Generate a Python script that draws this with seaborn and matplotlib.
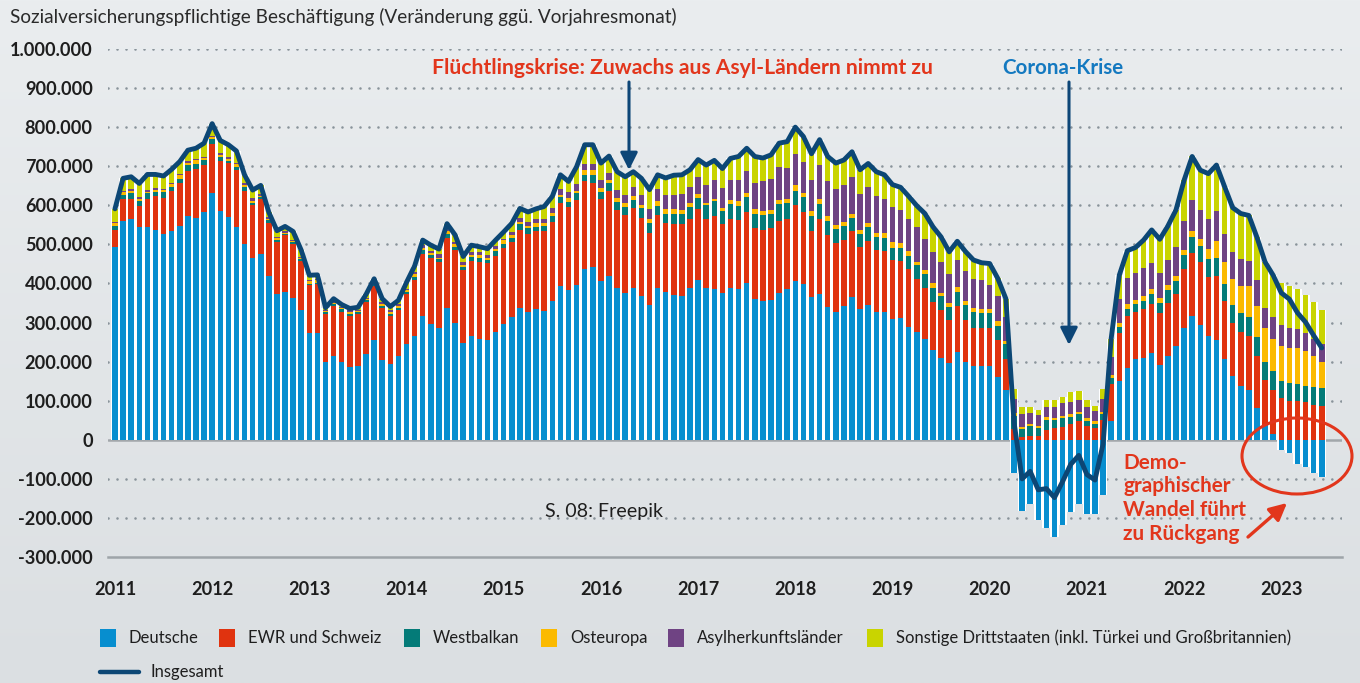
import numpy as np
import matplotlib
matplotlib.use("Agg")
import matplotlib.pyplot as plt
import seaborn as sns
from matplotlib import font_manager as fm
from matplotlib.patches import Rectangle, Ellipse
from matplotlib.lines import Line2D

# ---------------- data (values in thousands, monthly Jan 2011 - Jun 2023) ----------------
years = ["2011", "2012", "2013", "2014", "2015", "2016", "2017",
         "2018", "2019", "2020", "2021", "2022", "2023"]

deutsche = [
    494, 560, 565, 544, 544, 538, 527, 533, 548, 573, 568, 584,
    632, 585, 570, 544, 502, 466, 476, 420, 373, 379, 363, 332,
    272, 272, 199, 215, 199, 185, 188, 220, 256, 205, 194, 215,
    245, 266, 317, 297, 286, 337, 298, 247, 266, 257, 256, 276,
    297, 315, 338, 327, 334, 329, 355, 394, 383, 396, 437, 441,
    406, 420, 389, 375, 389, 368, 344, 389, 379, 370, 368, 389,
    409, 389, 385, 375, 389, 385, 401, 360, 355, 358, 375, 385,
    406, 399, 365, 374, 339, 327, 343, 365, 334, 344, 327, 327,
    309, 312, 288, 276, 257, 230, 209, 196, 225, 199, 189, 189,
    189, 160, 127, -85, -183, -165, -205, -226, -250, -217, -185, -164,
    -190, -190, -141, 47, 150, 184, 206, 210, 221, 191, 214, 239,
    286, 317, 293, 266, 256, 206, 163, 138, 127, 81, 37, 15,
    -25, -34, -62, -70, -85, -96]

ewr_schweiz = [
    43, 56, 51, 55, 72, 87, 92, 103, 109, 115, 125, 120,
    126, 128, 137, 147, 135, 135, 140, 135, 133, 144, 138, 125,
    123, 126, 122, 128, 128, 131, 133, 132, 137, 132, 122, 117,
    129, 144, 158, 168, 169, 180, 187, 187, 191, 198, 197, 195,
    194, 192, 199, 199, 200, 205, 203, 211, 212, 218, 226, 216,
    210, 216, 199, 199, 205, 200, 184, 186, 175, 182, 184, 176,
    181, 176, 188, 178, 176, 178, 183, 183, 183, 184, 185, 180,
    195, 185, 169, 192, 185, 176, 169, 169, 159, 164, 159, 156,
    152, 145, 149, 135, 132, 123, 123, 111, 118, 108, 97, 97,
    97, 96, 79, 27, 6, 10, 9, 26, 29, 32, 40, 48,
    35, 30, 50, 95, 124, 133, 121, 124, 126, 134, 135, 135,
    150, 160, 162, 150, 162, 149, 136, 138, 138, 133, 117, 113,
    107, 98, 98, 97, 88, 86]

westbalkan = [
    10, 11, 16, 13, 15, 10, 15, 11, 10, 15, 13, 11,
    11, 10, 7, 6, 9, 5, 4, 8, 6, 4, 5, 5,
    4, 4, 5, 4, 7, 7, 5, 5, 5, 6, 7, 6,
    5, 7, 10, 7, 8, 10, 9, 7, 10, 10, 6, 13,
    11, 10, 15, 16, 11, 13, 15, 15, 13, 17, 15, 21,
    19, 20, 21, 22, 20, 24, 26, 23, 24, 26, 26, 30,
    28, 36, 38, 32, 38, 36, 36, 35, 38, 35, 44, 40,
    36, 36, 38, 38, 36, 36, 35, 34, 34, 37, 33, 34,
    31, 34, 34, 36, 35, 36, 35, 33, 36, 38, 41, 38,
    39, 36, 38, 33, 21, 24, 21, 24, 21, 23, 18, 19,
    14, 10, 15, 16, 15, 17, 20, 21, 26, 24, 34, 32,
    36, 41, 40, 46, 46, 44, 46, 48, 50, 50, 45, 48,
    43, 48, 45, 40, 47, 46]

osteuropa = [
    7, 6, 4, 4, 4, 4, 6, 7, 10, 4, 9, 5,
    5, 7, 5, 9, 6, 6, 5, 3, 4, 3, 3, 2,
    7, 6, 3, 3, 3, 3, 3, 3, 3, 5, 4, 4,
    3, 7, 6, 6, 3, 6, 6, 6, 5, 7, 6, 5,
    9, 7, 6, 4, 9, 9, 7, 6, 10, 6, 13, 13,
    10, 10, 10, 9, 10, 10, 11, 13, 12, 12, 10, 10,
    11, 6, 6, 9, 10, 12, 11, 12, 10, 12, 10, 11,
    15, 11, 13, 13, 13, 10, 11, 11, 11, 10, 10, 11,
    13, 13, 13, 9, 10, 11, 9, 10, 12, 10, 10, 10,
    10, 12, 10, 9, 5, 7, 6, 7, 6, 5, 8, 5,
    7, 7, 5, 7, 10, 13, 10, 13, 12, 15, 13, 13,
    13, 17, 18, 25, 44, 57, 66, 70, 78, 79, 87, 81,
    91, 90, 92, 90, 79, 67]

asylherkunft = [
    3, 4, 5, 5, 5, 5, 2, 3, 3, 6, 4, 4,
    3, 4, 4, 3, 4, 6, 5, 4, 4, 3, 3, 4,
    4, 4, 4, 3, 4, 5, 4, 3, 3, 4, 4, 5,
    4, 6, 7, 5, 9, 6, 7, 7, 9, 9, 9, 7,
    4, 8, 10, 11, 12, 10, 13, 15, 17, 18, 15, 15,
    20, 17, 20, 21, 24, 24, 26, 30, 37, 37, 41, 43,
    44, 45, 47, 50, 51, 54, 57, 68, 77, 78, 83, 80,
    80, 81, 79, 87, 88, 92, 94, 94, 91, 92, 95, 88,
    90, 85, 82, 88, 81, 81, 79, 74, 68, 78, 74, 74,
    60, 64, 60, 35, 34, 27, 28, 27, 29, 33, 31, 29,
    28, 27, 34, 47, 62, 68, 70, 71, 67, 64, 64, 75,
    74, 79, 74, 77, 77, 71, 69, 68, 64, 67, 51, 57,
    53, 49, 49, 47, 43, 45]

sonstige = [
    34, 32, 32, 35, 39, 35, 33, 35, 32, 28, 27, 35,
    32, 32, 32, 30, 22, 21, 21, 12, 15, 13, 21, 17,
    11, 10, 5, 8, 5, 5, 6, 9, 8, 9, 10, 10,
    17, 15, 13, 15, 13, 14, 17, 15, 17, 13, 15, 15,
    17, 22, 24, 26, 25, 31, 30, 37, 26, 44, 49, 49,
    43, 43, 47, 47, 38, 43, 49, 37, 43, 50, 49, 43,
    44, 51, 51, 50, 56, 60, 58, 67, 58, 62, 62, 67,
    68, 64, 68, 64, 64, 67, 64, 64, 62, 60, 62, 62,
    58, 57, 57, 55, 64, 64, 64, 57, 49, 49, 49, 45,
    56, 45, 47, 27, 17, 16, 13, 17, 17, 17, 25, 23,
    17, 13, 26, 47, 60, 69, 65, 72, 85, 85, 87, 94,
    105, 111, 103, 117, 118, 121, 114, 117, 117, 108, 118, 107,
    107, 109, 103, 97, 95, 87]

insgesamt = [
    591, 669, 673, 656, 679, 679, 675, 692, 712, 741, 746, 759,
    809, 766, 755, 739, 678, 639, 651, 582, 535, 546, 533, 485,
    421, 422, 338, 361, 346, 336, 339, 372, 412, 361, 341, 357,
    403, 445, 511, 498, 488, 553, 524, 469, 498, 494, 489, 511,
    532, 554, 592, 583, 591, 597, 623, 678, 661, 699, 755, 755,
    708, 726, 686, 673, 686, 669, 640, 678, 670, 677, 678, 691,
    717, 703, 715, 694, 720, 725, 746, 725, 721, 729, 759, 763,
    800, 776, 732, 768, 725, 708, 716, 737, 691, 707, 686, 678,
    653, 646, 623, 599, 579, 545, 519, 481, 508, 482, 460, 453,
    451, 413, 361, 46, -100, -81, -128, -125, -148, -107, -63, -40,
    -89, -103, -11, 259, 421, 484, 492, 511, 537, 513, 547, 588,
    664, 725, 690, 681, 703, 648, 594, 579, 574, 518, 455, 421,
    376, 360, 325, 301, 267, 235]

series_names = ["Deutsche", "EWR und Schweiz", "Westbalkan", "Osteuropa",
                "Asylherkunftsländer",
                "Sonstige Drittstaaten (inkl. Türkei und Großbritannien)"]
series_values = [deutsche, ewr_schweiz, westbalkan, osteuropa, asylherkunft, sonstige]
series_colors = ["#078ecf", "#e0330f", "#047b78", "#fbba00", "#6f4383", "#c9d400"]
line_name = "Insgesamt"
line_color = "#0c4775"

y_ticks = [-300, -200, -100, 0, 100, 200, 300, 400, 500, 600, 700, 800, 900, 1000]
y_tick_labels = ["-300.000", "-200.000", "-100.000", "0", "100.000", "200.000",
                 "300.000", "400.000", "500.000", "600.000", "700.000",
                 "800.000", "900.000", "1.000.000"]

title = "Sozialversicherungspflichtige Beschäftigung (Veränderung ggü. Vorjahresmonat)"
note1 = "Flüchtlingskrise: Zuwachs aus Asyl-Ländern nimmt zu"
note2 = "Corona-Krise"
note3 = "Demo-\ngraphischer\nWandel führt\nzu Rückgang"
credit = "S. 08: Freepik"

# ---------------- style ----------------
sns.set_style("white")
names = {f.name for f in fm.fontManager.ttflist}
base_font = "Lato" if "Lato" in names else "DejaVu Sans"
plt.rcParams["font.family"] = [base_font, "DejaVu Sans"]

W, H = 1360, 683
fig = plt.figure(figsize=(W / 100, H / 100), dpi=100)
renderer = fig.canvas.get_renderer()

def px(x, y):
    return x / W, 1 - y / H

def size_for(s, target, weight="normal", base=12.0):
    t = fig.text(0, 0, s, fontsize=base, weight=weight)
    w = t.get_window_extent(renderer=renderer).width
    t.remove()
    return base * target / w

# background gradient
bg = fig.add_axes([0, 0, 1, 1], zorder=-10)
top_c = np.array([234, 237, 239]) / 255
bot_c = np.array([219, 223, 226]) / 255
g = np.linspace(0, 1, 256)[:, None, None]
grad = top_c * (1 - g) + bot_c * g
bg.imshow(np.repeat(grad, 2, axis=1), aspect="auto", extent=[0, 1, 0, 1])
bg.axis("off")

ax = fig.add_axes([108 / W, 1 - 557 / H, 1234 / W, (557 - 49) / H])
ax.set_facecolor("none")
n = len(deutsche)
x = np.arange(n)
ax.set_xlim(-0.86, 151.5)
ax.set_ylim(-300, 1000)

# grid
for yv in y_ticks:
    if yv in (0, -300):
        continue
    ax.axhline(yv, color="#89939a", lw=1.9, linestyle=(0, (0.01, 3.4)),
               dash_capstyle="round", zorder=1)
ax.axhline(0, color="#a2a7ab", lw=1.8, zorder=2)

# stack extents (for the white gaps behind the bars)
vals_arr = [np.array(v, dtype=float) for v in series_values]
pos_tot = sum(np.where(v > 0, v, 0) for v in vals_arr)
neg_tot = sum(np.where(v < 0, v, 0) for v in vals_arr)
ax.bar(x, pos_tot, width=1.0, bottom=0, color="white", linewidth=0, zorder=2.5)
ax.bar(x, neg_tot, width=1.0, bottom=0, color="white", linewidth=0, zorder=2.5)

# stacked bars (positive above zero, negative below)
pos_b = np.zeros(n)
neg_b = np.zeros(n)
for v, col in zip(vals_arr, series_colors):
    bottom = np.where(v >= 0, pos_b, neg_b)
    ax.bar(x, v, width=0.68, bottom=bottom, color=col, linewidth=0, zorder=3)
    pos_b += np.where(v > 0, v, 0)
    neg_b += np.where(v < 0, v, 0)

# total line via seaborn
sns.lineplot(x=x, y=insgesamt, ax=ax, color=line_color, linewidth=3.5,
             zorder=5, legend=False)
for l in ax.lines[-1:]:
    l.set_solid_joinstyle("round")
    l.set_solid_capstyle("round")

# axes cosmetics
for s in ["top", "right", "left"]:
    ax.spines[s].set_visible(False)
ax.spines["bottom"].set_color("#9ea4a9")
ax.spines["bottom"].set_linewidth(1.8)
ax.set_xlabel("")
ax.set_ylabel("")

ytick_size = size_for("1.000.000", 82, "bold")
ax.set_yticks(y_ticks)
ax.set_yticklabels(y_tick_labels, fontsize=ytick_size, fontweight="bold", color="#1e1e1e")
ax.set_xticks(np.arange(0, n, 12))
ax.set_xticklabels(years, fontsize=ytick_size, fontweight="bold", color="#1e1e1e")
ax.tick_params(axis="y", length=0, pad=11)
ax.tick_params(axis="x", length=4, width=1.2, color="#9ea4a9", direction="out", pad=13)

# title
fig.text(*px(10, 17), title, fontsize=size_for(title, 665), color="#2a2a2a",
         ha="left", va="center")

red = "#e2361c"
blue = "#1479c0"
navy = "#0d4677"

fig.text(*px(682, 68), note1, fontsize=size_for(note1, 500, "bold"), color=red,
         weight="bold", ha="center", va="center")
fig.text(*px(1063, 68), note2, fontsize=size_for(note2, 121, "bold"), color=blue,
         weight="bold", ha="center", va="center")

def arrow(x0, y0, x1, y1, color, lw=2.2, ms=26):
    fig.add_artist(matplotlib.patches.FancyArrowPatch(
        px(x0, y0), px(x1, y1), transform=fig.transFigure,
        arrowstyle="-|>", mutation_scale=ms, color=color, lw=lw,
        shrinkA=0, shrinkB=0, zorder=10))

arrow(629, 82, 629, 170, navy)
arrow(1069, 82, 1069, 345, navy)

demo_size = size_for("Wandel führt", 123, "bold")
for k, line in enumerate(note3.split("\n")):
    fig.text(*px(1123, 463 + 23.5 * k), line, fontsize=demo_size, color=red,
             weight="bold", ha="left", va="center")
arrow(1248, 537, 1287, 503, red, lw=2.4, ms=26)
cx, cy = px(1297, 456)
fig.add_artist(Ellipse((cx, cy), 110 / W, 76 / H, transform=fig.transFigure,
                       fill=False, ec=red, lw=2.2, zorder=10))

fig.text(*px(604, 511), credit, fontsize=size_for(credit, 117), color="#1e1e1e",
         ha="center", va="center")

# legend (manual)
leg_size = size_for(series_names[-1], 394)
patch_x = [100, 219, 404, 541, 668, 867]
for xp, name, col in zip(patch_x, series_names, series_colors):
    fig.add_artist(Rectangle(px(xp, 647), 16 / W, 18 / H, transform=fig.transFigure,
                             color=col, lw=0))
    fig.text(*px(xp + 29, 638), name, fontsize=leg_size, color="#1e1e1e",
             ha="left", va="center")
fig.add_artist(Line2D([100 / W, 139 / W], [1 - 672 / H, 1 - 672 / H],
                      transform=fig.transFigure, color=line_color, lw=3.2))
fig.text(*px(150, 672), line_name, fontsize=leg_size, color="#1e1e1e",
         ha="left", va="center")

fig.savefig("out.png", dpi=100)
